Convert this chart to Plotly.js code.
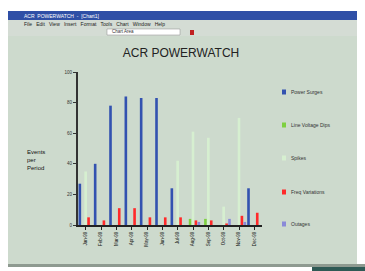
<!DOCTYPE html>
<html><head><meta charset="utf-8">
<script src="https://cdn.plot.ly/plotly-3.0.1.min.js"></script>
<style>html,body{margin:0;padding:0;background:#fff;}#c{width:365px;height:271px;}</style>
</head><body><div id="c"></div>
<script>
const categories = ["Jan-99","Feb-99","Mar-99","Apr-99","May-99","Jun-99","Jul-99","Aug-99","Sep-99","Oct-99","Nov-99","Dec-99"];
const seriesNames = ["Power Surges","Line Voltage Dips","Spikes","Freq Variations","Outages"];
const seriesColors = ["#3352b0","#7ed040","#d6efd0","#ff2a2a","#8a8ad8"];
const surges   = [27,40,78,84,83,83,24,0,0,0,0,24];
const dips     = [0,0,0,0,0,0,0,4,4,0,0,0];
const spikes   = [35,0,0,0,0,0,42,61,57,12,70,0];
const freq     = [5,3,11,11,5,5,5,3,3,1,6,8];
const outages  = [0,0,0,0,0,0,0,2,0,4,2,0];
const yTicks = [0,20,40,60,80,100];
const chartTitle = "ACR POWERWATCH";
const yTitle = "Events<br>per<br>Period";

const values = [surges,dips,spikes,freq,outages];
const traces = values.map((v,i)=>({type:"bar",x:categories,y:v,name:seriesNames[i],
  marker:{color:seriesColors[i],line:{width:0}},showlegend:false}));

const W=365,H=271;
const px=x=>x/W, py=y=>1-y/H;
const shapes=[
  {type:"rect",xref:"paper",yref:"paper",x0:px(8),x1:px(357),y0:py(264),y1:py(36),fillcolor:"#cddacd",line:{width:0},layer:"below"},
  {type:"rect",xref:"paper",yref:"paper",x0:px(8),x1:px(357),y0:py(20),y1:py(11),fillcolor:"#2f4fa6",line:{width:0},layer:"below"},
  {type:"rect",xref:"paper",yref:"paper",x0:px(8),x1:px(357),y0:py(36),y1:py(20),fillcolor:"#d4dcd4",line:{width:0},layer:"below"},
  {type:"rect",xref:"paper",yref:"paper",x0:px(107),x1:px(180),y0:py(35),y1:py(29),fillcolor:"#ffffff",line:{color:"#888",width:0.5},layer:"below"},
  {type:"rect",xref:"paper",yref:"paper",x0:px(8),x1:px(365),y0:py(267),y1:py(264),fillcolor:"#8e9a90",line:{width:0},layer:"below"},
  {type:"rect",xref:"paper",yref:"paper",x0:px(312),x1:px(365),y0:0,y1:py(267),fillcolor:"#2f5a55",line:{width:0},layer:"below"},
  {type:"rect",xref:"paper",yref:"paper",x0:px(190),x1:px(194),y0:py(35),y1:py(30),fillcolor:"#c02020",line:{width:0}},
];
const annotations=[
  {xref:"paper",yref:"paper",x:px(22),y:py(15.5),xanchor:"left",yanchor:"middle",showarrow:false,
   text:"ACR  POWERWATCH  -  [Chart1]",font:{family:"Liberation Sans",size:5,color:"#ffffff"}},
  {xref:"paper",yref:"paper",x:px(22),y:py(24),xanchor:"left",yanchor:"middle",showarrow:false,
   text:"File   Edit   View   Insert   Format   Tools   Chart   Window   Help",font:{family:"Liberation Sans",size:5,color:"#222"}},
  {xref:"paper",yref:"paper",x:px(110),y:py(32),xanchor:"left",yanchor:"middle",showarrow:false,
   text:"Chart Area",font:{family:"Liberation Sans",size:4.5,color:"#333"}},
  {xref:"paper",yref:"paper",x:px(25),y:py(160),xanchor:"left",yanchor:"middle",showarrow:false,align:"left",
   text:yTitle,font:{family:"Liberation Sans",size:6,color:"#111"}},
];
const legY=[92,125,158,192,224];
seriesNames.forEach((n,i)=>{
  shapes.push({type:"rect",xref:"paper",yref:"paper",x0:px(282),x1:px(286),y0:py(legY[i]+2.5),y1:py(legY[i]-2.5),
    fillcolor:seriesColors[i],line:{width:0}});
  annotations.push({xref:"paper",yref:"paper",x:px(289),y:py(legY[i]),xanchor:"left",yanchor:"middle",showarrow:false,
    text:n,font:{family:"Liberation Sans",size:5,color:"#333"}});
});

const layout={
  width:W,height:H,margin:{l:0,r:0,t:0,b:0},paper_bgcolor:"#ffffff",plot_bgcolor:"rgba(0,0,0,0)",
  title:{text:chartTitle,x:px(181),xanchor:"center",y:py(53),yanchor:"middle",font:{family:"Liberation Sans",size:12,color:"#222"}},
  barmode:"group",bargap:0.05,bargroupgap:0.1,showlegend:false,
  xaxis:{domain:[px(78),px(262)],anchor:"y",tickangle:-90,tickfont:{family:"Liberation Sans",size:4.5,color:"#111"},
    showline:true,linecolor:"#222",linewidth:2,ticks:"outside",ticklen:3,tickcolor:"#222",showgrid:false,fixedrange:true},
  yaxis:{domain:[py(225),py(72)],range:[0,100],tickvals:yTicks,tickfont:{family:"Liberation Sans",size:4.5,color:"#333"},
    showline:true,linecolor:"#333",linewidth:2,ticks:"outside",ticklen:3,tickcolor:"#333",showgrid:false,zeroline:false,fixedrange:true},
  shapes:shapes,annotations:annotations
};
Plotly.newPlot("c",traces,layout,{displayModeBar:false,staticPlot:true});
</script></body></html>
